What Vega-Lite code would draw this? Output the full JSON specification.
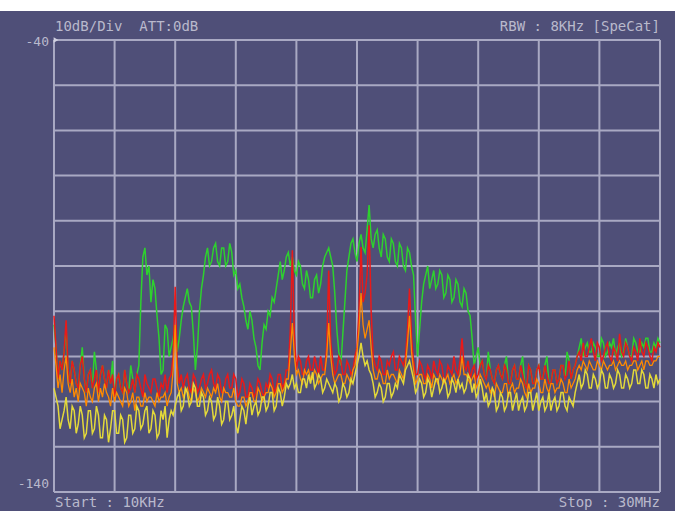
{
  "$schema": "https://vega.github.io/schema/vega-lite/v6.json",
  "width": 675,
  "height": 500,
  "autosize": {"type": "none"},
  "padding": {"top": 11, "left": 0, "right": 0, "bottom": 0},
  "background": "#ffffff",
  "view": {"fill": "#4f4f78", "stroke": null},
  "datasets": {
    "vg": [{"v":0},{"v":3},{"v":6},{"v":9},{"v":12},{"v":15},{"v":18},{"v":21},{"v":24},{"v":27},{"v":30}],
    "hg": [{"h":-40},{"h":-50},{"h":-60},{"h":-70},{"h":-80},{"h":-90},{"h":-100},{"h":-110},{"h":-120},{"h":-130},{"h":-140}],
    "spec": [
      {"f":0.0,"g":-103,"r":-101,"o":-108,"y":-117},
      {"f":0.1,"g":-108,"r":-108,"o":-112,"y":-119},
      {"f":0.2,"g":-115,"r":-115,"o":-117,"y":-121},
      {"f":0.3,"g":-111,"r":-111,"o":-114,"y":-126},
      {"f":0.4,"g":-113,"r":-113,"o":-118,"y":-124},
      {"f":0.5,"g":-109,"r":-109,"o":-113,"y":-122},
      {"f":0.6,"g":-104,"r":-102,"o":-110,"y":-119},
      {"f":0.7,"g":-113,"r":-113,"o":-116,"y":-124},
      {"f":0.8,"g":-116,"r":-116,"o":-118,"y":-126},
      {"f":0.9,"g":-111,"r":-111,"o":-115,"y":-121},
      {"f":1.0,"g":-113,"r":-113,"o":-119,"y":-122},
      {"f":1.1,"g":-116,"r":-116,"o":-117,"y":-127},
      {"f":1.2,"g":-117,"r":-117,"o":-120,"y":-125},
      {"f":1.3,"g":-112,"r":-112,"o":-116,"y":-121},
      {"f":1.4,"g":-108,"r":-110,"o":-117,"y":-123},
      {"f":1.5,"g":-115,"r":-115,"o":-118,"y":-128},
      {"f":1.6,"g":-118,"r":-118,"o":-121,"y":-127},
      {"f":1.7,"g":-114,"r":-114,"o":-117,"y":-122},
      {"f":1.8,"g":-113,"r":-113,"o":-119,"y":-122},
      {"f":1.9,"g":-117,"r":-117,"o":-120,"y":-127},
      {"f":2.0,"g":-109,"r":-115,"o":-117,"y":-126},
      {"f":2.1,"g":-113,"r":-113,"o":-116,"y":-121},
      {"f":2.2,"g":-118,"r":-118,"o":-120,"y":-123},
      {"f":2.3,"g":-114,"r":-114,"o":-117,"y":-128},
      {"f":2.4,"g":-112,"r":-112,"o":-119,"y":-128},
      {"f":2.5,"g":-115,"r":-115,"o":-116,"y":-123},
      {"f":2.6,"g":-117,"r":-117,"o":-118,"y":-124},
      {"f":2.7,"g":-113,"r":-113,"o":-119,"y":-129},
      {"f":2.8,"g":-116,"r":-116,"o":-121,"y":-126},
      {"f":2.9,"g":-111,"r":-114,"o":-117,"y":-122},
      {"f":3.0,"g":-119,"r":-119,"o":-120,"y":-122},
      {"f":3.1,"g":-115,"r":-115,"o":-118,"y":-127},
      {"f":3.2,"g":-114,"r":-114,"o":-119,"y":-127},
      {"f":3.3,"g":-117,"r":-117,"o":-120,"y":-123},
      {"f":3.4,"g":-118,"r":-118,"o":-121,"y":-124},
      {"f":3.5,"g":-113,"r":-113,"o":-117,"y":-129},
      {"f":3.6,"g":-116,"r":-116,"o":-118,"y":-128},
      {"f":3.7,"g":-118,"r":-118,"o":-121,"y":-123},
      {"f":3.8,"g":-112,"r":-117,"o":-120,"y":-123},
      {"f":3.9,"g":-115,"r":-115,"o":-118,"y":-127},
      {"f":4.0,"g":-118,"r":-118,"o":-122,"y":-126},
      {"f":4.1,"g":-114,"r":-114,"o":-119,"y":-121},
      {"f":4.2,"g":-112,"r":-115,"o":-119,"y":-122},
      {"f":4.3,"g":-98,"r":-117,"o":-121,"y":-126},
      {"f":4.4,"g":-88,"r":-119,"o":-121,"y":-125},
      {"f":4.5,"g":-86,"r":-114,"o":-118,"y":-122},
      {"f":4.6,"g":-92,"r":-116,"o":-120,"y":-121},
      {"f":4.7,"g":-90,"r":-117,"o":-119,"y":-127},
      {"f":4.8,"g":-98,"r":-118,"o":-119,"y":-126},
      {"f":4.9,"g":-93,"r":-115,"o":-120,"y":-122},
      {"f":5.0,"g":-95,"r":-115,"o":-121,"y":-123},
      {"f":5.1,"g":-101,"r":-117,"o":-118,"y":-128},
      {"f":5.2,"g":-106,"r":-119,"o":-120,"y":-127},
      {"f":5.3,"g":-114,"r":-116,"o":-119,"y":-122},
      {"f":5.4,"g":-113,"r":-117,"o":-119,"y":-124},
      {"f":5.5,"g":-103,"r":-114,"o":-118,"y":-121},
      {"f":5.6,"g":-104,"r":-118,"o":-121,"y":-128},
      {"f":5.7,"g":-110,"r":-115,"o":-119,"y":-124},
      {"f":5.8,"g":-108,"r":-114,"o":-118,"y":-122},
      {"f":5.9,"g":-106,"r":-110,"o":-113,"y":-123},
      {"f":6.0,"g":-103,"r":-94.6,"o":-103,"y":-121},
      {"f":6.1,"g":-109,"r":-112,"o":-116,"y":-119},
      {"f":6.2,"g":-106,"r":-116,"o":-118,"y":-118},
      {"f":6.3,"g":-102,"r":-114,"o":-117,"y":-122},
      {"f":6.4,"g":-99,"r":-117,"o":-119,"y":-121},
      {"f":6.5,"g":-97,"r":-115,"o":-118,"y":-117},
      {"f":6.6,"g":-95,"r":-114,"o":-117,"y":-118},
      {"f":6.7,"g":-98,"r":-117,"o":-119,"y":-121},
      {"f":6.8,"g":-99,"r":-118,"o":-120,"y":-120},
      {"f":6.9,"g":-105,"r":-114,"o":-117,"y":-116},
      {"f":7.0,"g":-113,"r":-115,"o":-118,"y":-117},
      {"f":7.1,"g":-108,"r":-118,"o":-120,"y":-121},
      {"f":7.2,"g":-100,"r":-117,"o":-119,"y":-121},
      {"f":7.3,"g":-95,"r":-115,"o":-117,"y":-118},
      {"f":7.4,"g":-92,"r":-114,"o":-118,"y":-119},
      {"f":7.5,"g":-88,"r":-117,"o":-119,"y":-123},
      {"f":7.6,"g":-86,"r":-116,"o":-117,"y":-122},
      {"f":7.7,"g":-90,"r":-114,"o":-118,"y":-119},
      {"f":7.8,"g":-89,"r":-113,"o":-119,"y":-120},
      {"f":7.9,"g":-86,"r":-116,"o":-117,"y":-124},
      {"f":8.0,"g":-85,"r":-117,"o":-118,"y":-123},
      {"f":8.1,"g":-89,"r":-114,"o":-116,"y":-119},
      {"f":8.2,"g":-90,"r":-115,"o":-119,"y":-121},
      {"f":8.3,"g":-86,"r":-118,"o":-120,"y":-125},
      {"f":8.4,"g":-86,"r":-118,"o":-117,"y":-124},
      {"f":8.5,"g":-90,"r":-115,"o":-118,"y":-120},
      {"f":8.6,"g":-89,"r":-114,"o":-118,"y":-120},
      {"f":8.7,"g":-85,"r":-117,"o":-119,"y":-124},
      {"f":8.8,"g":-87,"r":-117,"o":-119,"y":-123},
      {"f":8.9,"g":-92,"r":-114,"o":-117,"y":-121},
      {"f":9.0,"g":-91,"r":-115,"o":-120,"y":-125},
      {"f":9.1,"g":-95,"r":-119,"o":-121,"y":-127},
      {"f":9.2,"g":-94,"r":-118,"o":-121,"y":-124},
      {"f":9.3,"g":-97,"r":-115,"o":-119,"y":-121},
      {"f":9.4,"g":-99,"r":-116,"o":-119,"y":-122},
      {"f":9.5,"g":-102,"r":-119,"o":-121,"y":-125},
      {"f":9.6,"g":-104,"r":-119,"o":-120,"y":-121},
      {"f":9.7,"g":-100,"r":-116,"o":-118,"y":-119},
      {"f":9.8,"g":-102,"r":-117,"o":-118,"y":-123},
      {"f":9.9,"g":-106,"r":-119,"o":-120,"y":-121},
      {"f":10.0,"g":-108,"r":-118,"o":-120,"y":-120},
      {"f":10.1,"g":-112,"r":-115,"o":-117,"y":-123},
      {"f":10.2,"g":-113,"r":-116,"o":-118,"y":-122},
      {"f":10.3,"g":-107,"r":-118,"o":-120,"y":-119},
      {"f":10.4,"g":-103,"r":-119,"o":-119,"y":-119},
      {"f":10.5,"g":-104,"r":-116,"o":-118,"y":-122},
      {"f":10.6,"g":-100,"r":-117,"o":-118,"y":-121},
      {"f":10.7,"g":-101,"r":-114,"o":-116,"y":-118},
      {"f":10.8,"g":-97,"r":-115,"o":-117,"y":-118},
      {"f":10.9,"g":-98,"r":-118,"o":-119,"y":-122},
      {"f":11.0,"g":-95,"r":-117,"o":-118,"y":-121},
      {"f":11.1,"g":-92,"r":-114,"o":-116,"y":-117},
      {"f":11.2,"g":-89,"r":-114,"o":-116,"y":-118},
      {"f":11.3,"g":-93,"r":-117,"o":-118,"y":-121},
      {"f":11.4,"g":-91,"r":-116,"o":-117,"y":-119},
      {"f":11.5,"g":-88,"r":-113,"o":-115,"y":-116},
      {"f":11.6,"g":-87,"r":-113,"o":-115,"y":-117},
      {"f":11.7,"g":-90,"r":-104,"o":-109,"y":-116},
      {"f":11.8,"g":-88,"r":-86.5,"o":-102.6,"y":-114},
      {"f":11.9,"g":-91,"r":-105,"o":-110,"y":-117},
      {"f":12.0,"g":-92,"r":-113,"o":-114,"y":-116},
      {"f":12.1,"g":-89,"r":-110,"o":-113,"y":-118},
      {"f":12.2,"g":-90,"r":-111,"o":-115,"y":-118},
      {"f":12.3,"g":-94,"r":-114,"o":-116,"y":-115},
      {"f":12.4,"g":-95,"r":-114,"o":-113,"y":-115},
      {"f":12.5,"g":-91,"r":-111,"o":-114,"y":-117},
      {"f":12.6,"g":-93,"r":-110,"o":-113,"y":-114},
      {"f":12.7,"g":-97,"r":-113,"o":-115,"y":-116},
      {"f":12.8,"g":-97,"r":-113,"o":-115,"y":-113.5},
      {"f":12.9,"g":-93,"r":-110,"o":-113,"y":-117},
      {"f":13.0,"g":-92,"r":-112,"o":-114,"y":-116},
      {"f":13.1,"g":-96,"r":-114,"o":-116,"y":-114},
      {"f":13.2,"g":-94,"r":-110,"o":-115,"y":-115},
      {"f":13.3,"g":-90,"r":-113,"o":-114,"y":-118},
      {"f":13.4,"g":-88,"r":-113,"o":-114,"y":-117},
      {"f":13.5,"g":-87,"r":-108,"o":-110,"y":-115},
      {"f":13.6,"g":-86,"r":-91,"o":-102.6,"y":-116},
      {"f":13.7,"g":-88,"r":-107,"o":-110,"y":-117},
      {"f":13.8,"g":-90,"r":-111,"o":-114,"y":-118},
      {"f":13.9,"g":-96,"r":-114,"o":-116,"y":-116},
      {"f":14.0,"g":-104,"r":-113,"o":-115,"y":-117},
      {"f":14.1,"g":-109,"r":-110,"o":-114,"y":-120},
      {"f":14.2,"g":-112,"r":-111,"o":-114,"y":-119},
      {"f":14.3,"g":-105,"r":-114,"o":-116,"y":-116},
      {"f":14.4,"g":-98,"r":-114,"o":-116,"y":-117},
      {"f":14.5,"g":-91,"r":-111,"o":-114,"y":-119},
      {"f":14.6,"g":-88,"r":-112,"o":-115,"y":-118},
      {"f":14.7,"g":-85,"r":-114,"o":-116,"y":-115},
      {"f":14.8,"g":-84,"r":-113,"o":-113,"y":-116},
      {"f":14.9,"g":-87,"r":-110,"o":-112,"y":-114},
      {"f":15.0,"g":-89,"r":-108,"o":-109,"y":-112},
      {"f":15.1,"g":-85,"r":-100,"o":-104,"y":-110},
      {"f":15.2,"g":-83,"r":-85.8,"o":-96,"y":-107},
      {"f":15.3,"g":-86,"r":-98,"o":-103,"y":-110},
      {"f":15.4,"g":-87,"r":-96,"o":-106,"y":-112},
      {"f":15.5,"g":-82,"r":-92,"o":-104,"y":-111},
      {"f":15.6,"g":-76.5,"r":-81,"o":-102,"y":-113},
      {"f":15.7,"g":-84,"r":-100,"o":-108,"y":-114},
      {"f":15.8,"g":-86,"r":-110,"o":-113,"y":-116},
      {"f":15.9,"g":-83,"r":-112,"o":-115,"y":-119},
      {"f":16.0,"g":-82,"r":-113,"o":-115,"y":-118},
      {"f":16.1,"g":-86,"r":-110,"o":-113,"y":-116},
      {"f":16.2,"g":-88,"r":-111,"o":-114,"y":-117},
      {"f":16.3,"g":-83,"r":-114,"o":-116,"y":-120},
      {"f":16.4,"g":-84,"r":-114,"o":-116,"y":-119},
      {"f":16.5,"g":-88,"r":-111,"o":-113,"y":-116},
      {"f":16.6,"g":-89,"r":-112,"o":-115,"y":-116},
      {"f":16.7,"g":-84,"r":-110,"o":-114,"y":-119},
      {"f":16.8,"g":-85,"r":-109,"o":-114,"y":-118},
      {"f":16.9,"g":-89,"r":-113,"o":-115,"y":-116},
      {"f":17.0,"g":-90,"r":-113,"o":-116,"y":-117},
      {"f":17.1,"g":-85,"r":-110,"o":-113,"y":-114},
      {"f":17.2,"g":-86,"r":-111,"o":-114,"y":-115},
      {"f":17.3,"g":-90,"r":-112,"o":-115,"y":-116},
      {"f":17.4,"g":-91,"r":-110,"o":-112,"y":-113},
      {"f":17.5,"g":-86,"r":-104,"o":-107,"y":-112},
      {"f":17.6,"g":-87,"r":-95,"o":-101,"y":-111},
      {"f":17.7,"g":-90,"r":-106,"o":-109,"y":-113},
      {"f":17.8,"g":-92,"r":-111,"o":-113,"y":-115},
      {"f":17.9,"g":-102,"r":-114,"o":-116,"y":-118},
      {"f":18.0,"g":-110,"r":-114,"o":-115,"y":-117},
      {"f":18.1,"g":-104,"r":-111,"o":-114,"y":-115},
      {"f":18.2,"g":-98,"r":-112,"o":-114,"y":-116},
      {"f":18.3,"g":-94,"r":-114,"o":-116,"y":-119},
      {"f":18.4,"g":-92,"r":-115,"o":-116,"y":-118},
      {"f":18.5,"g":-90,"r":-112,"o":-114,"y":-115},
      {"f":18.6,"g":-95,"r":-113,"o":-115,"y":-116},
      {"f":18.7,"g":-93,"r":-115,"o":-117,"y":-119},
      {"f":18.8,"g":-91,"r":-111,"o":-114,"y":-117},
      {"f":18.9,"g":-95,"r":-113,"o":-115,"y":-115},
      {"f":19.0,"g":-94,"r":-114,"o":-116,"y":-115},
      {"f":19.1,"g":-91,"r":-111,"o":-114,"y":-118},
      {"f":19.2,"g":-92,"r":-112,"o":-115,"y":-117},
      {"f":19.3,"g":-97,"r":-115,"o":-116,"y":-115},
      {"f":19.4,"g":-96,"r":-115,"o":-115,"y":-116},
      {"f":19.5,"g":-92,"r":-112,"o":-114,"y":-119},
      {"f":19.6,"g":-93,"r":-113,"o":-116,"y":-118},
      {"f":19.7,"g":-98,"r":-114,"o":-115,"y":-115},
      {"f":19.8,"g":-97,"r":-110,"o":-114,"y":-116},
      {"f":19.9,"g":-93,"r":-113,"o":-116,"y":-118},
      {"f":20.0,"g":-94,"r":-114,"o":-115,"y":-115},
      {"f":20.1,"g":-98,"r":-111,"o":-114,"y":-117},
      {"f":20.2,"g":-99,"r":-106,"o":-110,"y":-116},
      {"f":20.3,"g":-95,"r":-112,"o":-114,"y":-118},
      {"f":20.4,"g":-96,"r":-113,"o":-114,"y":-117},
      {"f":20.5,"g":-100,"r":-111,"o":-115,"y":-114},
      {"f":20.6,"g":-101,"r":-115,"o":-116,"y":-115},
      {"f":20.7,"g":-106,"r":-113,"o":-115,"y":-118},
      {"f":20.8,"g":-112,"r":-112,"o":-114,"y":-116},
      {"f":20.9,"g":-110,"r":-115,"o":-117,"y":-119},
      {"f":21.0,"g":-108,"r":-114,"o":-116,"y":-118},
      {"f":21.1,"g":-112,"r":-112,"o":-114,"y":-115},
      {"f":21.2,"g":-111,"r":-111,"o":-115,"y":-117},
      {"f":21.3,"g":-114,"r":-114,"o":-116,"y":-120},
      {"f":21.4,"g":-115,"r":-115,"o":-117,"y":-118},
      {"f":21.5,"g":-109,"r":-112,"o":-116,"y":-121},
      {"f":21.6,"g":-113,"r":-113,"o":-118,"y":-120},
      {"f":21.7,"g":-115,"r":-115,"o":-117,"y":-117},
      {"f":21.8,"g":-116,"r":-116,"o":-119,"y":-118},
      {"f":21.9,"g":-113,"r":-113,"o":-116,"y":-122},
      {"f":22.0,"g":-112,"r":-112,"o":-117,"y":-121},
      {"f":22.1,"g":-114,"r":-114,"o":-118,"y":-118},
      {"f":22.2,"g":-115,"r":-115,"o":-118,"y":-119},
      {"f":22.3,"g":-112,"r":-112,"o":-116,"y":-122},
      {"f":22.4,"g":-110,"r":-113,"o":-116,"y":-121},
      {"f":22.5,"g":-116,"r":-116,"o":-119,"y":-118},
      {"f":22.6,"g":-116,"r":-116,"o":-117,"y":-118},
      {"f":22.7,"g":-113,"r":-113,"o":-116,"y":-122},
      {"f":22.8,"g":-112,"r":-112,"o":-118,"y":-120},
      {"f":22.9,"g":-115,"r":-115,"o":-117,"y":-118},
      {"f":23.0,"g":-115,"r":-115,"o":-117,"y":-122},
      {"f":23.1,"g":-112,"r":-112,"o":-115,"y":-120},
      {"f":23.2,"g":-110,"r":-114,"o":-116,"y":-119},
      {"f":23.3,"g":-116,"r":-116,"o":-118,"y":-122},
      {"f":23.4,"g":-117,"r":-117,"o":-119,"y":-121},
      {"f":23.5,"g":-112,"r":-112,"o":-116,"y":-118},
      {"f":23.6,"g":-113,"r":-113,"o":-118,"y":-118},
      {"f":23.7,"g":-116,"r":-116,"o":-117,"y":-122},
      {"f":23.8,"g":-116,"r":-116,"o":-117,"y":-120},
      {"f":23.9,"g":-113,"r":-113,"o":-115,"y":-118},
      {"f":24.0,"g":-112,"r":-112,"o":-116,"y":-122},
      {"f":24.1,"g":-115,"r":-115,"o":-118,"y":-120},
      {"f":24.2,"g":-115,"r":-115,"o":-118,"y":-119},
      {"f":24.3,"g":-112,"r":-112,"o":-115,"y":-122},
      {"f":24.4,"g":-110,"r":-114,"o":-117,"y":-121},
      {"f":24.5,"g":-116,"r":-116,"o":-118,"y":-118},
      {"f":24.6,"g":-116,"r":-116,"o":-116,"y":-122},
      {"f":24.7,"g":-113,"r":-113,"o":-116,"y":-120},
      {"f":24.8,"g":-113,"r":-113,"o":-118,"y":-119},
      {"f":24.9,"g":-116,"r":-116,"o":-117,"y":-122},
      {"f":25.0,"g":-115,"r":-115,"o":-117,"y":-121},
      {"f":25.1,"g":-112,"r":-112,"o":-115,"y":-118},
      {"f":25.2,"g":-112,"r":-112,"o":-116,"y":-118},
      {"f":25.3,"g":-115,"r":-115,"o":-118,"y":-121},
      {"f":25.4,"g":-109,"r":-114,"o":-118,"y":-122},
      {"f":25.5,"g":-111,"r":-111,"o":-115,"y":-119},
      {"f":25.6,"g":-115,"r":-115,"o":-117,"y":-120},
      {"f":25.7,"g":-113,"r":-113,"o":-116,"y":-121},
      {"f":25.8,"g":-112,"r":-112,"o":-115,"y":-118},
      {"f":25.9,"g":-110,"r":-110,"o":-113,"y":-116},
      {"f":26.0,"g":-108,"r":-109,"o":-112,"y":-114},
      {"f":26.1,"g":-106,"r":-111,"o":-113,"y":-117},
      {"f":26.2,"g":-110,"r":-107,"o":-111,"y":-116},
      {"f":26.3,"g":-108,"r":-110,"o":-112,"y":-113},
      {"f":26.4,"g":-107,"r":-110,"o":-113,"y":-114},
      {"f":26.5,"g":-109,"r":-108,"o":-111,"y":-117},
      {"f":26.6,"g":-109,"r":-106,"o":-112,"y":-117},
      {"f":26.7,"g":-107,"r":-109,"o":-113,"y":-114},
      {"f":26.8,"g":-108,"r":-111,"o":-113,"y":-115},
      {"f":26.9,"g":-110,"r":-107,"o":-111,"y":-117},
      {"f":27.0,"g":-110,"r":-108,"o":-112,"y":-116},
      {"f":27.1,"g":-106,"r":-111,"o":-113,"y":-113},
      {"f":27.2,"g":-107,"r":-110,"o":-111,"y":-114},
      {"f":27.3,"g":-110,"r":-108,"o":-112,"y":-117},
      {"f":27.4,"g":-109,"r":-107,"o":-113,"y":-117},
      {"f":27.5,"g":-107,"r":-110,"o":-112,"y":-114},
      {"f":27.6,"g":-108,"r":-111,"o":-112,"y":-115},
      {"f":27.7,"g":-106,"r":-108,"o":-111,"y":-117},
      {"f":27.8,"g":-110,"r":-109,"o":-113,"y":-116},
      {"f":27.9,"g":-108,"r":-111,"o":-112,"y":-113},
      {"f":28.0,"g":-107,"r":-105,"o":-111,"y":-114},
      {"f":28.1,"g":-110,"r":-109,"o":-112,"y":-117},
      {"f":28.2,"g":-109,"r":-110,"o":-112,"y":-117},
      {"f":28.3,"g":-106,"r":-107,"o":-111,"y":-114},
      {"f":28.4,"g":-108,"r":-108,"o":-113,"y":-115},
      {"f":28.5,"g":-110,"r":-110,"o":-112,"y":-117},
      {"f":28.6,"g":-110,"r":-111,"o":-112,"y":-116},
      {"f":28.7,"g":-106,"r":-108,"o":-111,"y":-113},
      {"f":28.8,"g":-107,"r":-109,"o":-111,"y":-113},
      {"f":28.9,"g":-109,"r":-111,"o":-113,"y":-116},
      {"f":29.0,"g":-109,"r":-106,"o":-112,"y":-116},
      {"f":29.1,"g":-107,"r":-109,"o":-111,"y":-113},
      {"f":29.2,"g":-108,"r":-110,"o":-113,"y":-114},
      {"f":29.3,"g":-106,"r":-107,"o":-111,"y":-117},
      {"f":29.4,"g":-106,"r":-108,"o":-111,"y":-117},
      {"f":29.5,"g":-109,"r":-110,"o":-112,"y":-114},
      {"f":29.6,"g":-109,"r":-111,"o":-112,"y":-115},
      {"f":29.7,"g":-107,"r":-108,"o":-111,"y":-117},
      {"f":29.8,"g":-108,"r":-109,"o":-111,"y":-114},
      {"f":29.9,"g":-106,"r":-107,"o":-110,"y":-116},
      {"f":30.0,"g":-107,"r":-108,"o":-110,"y":-115}
    ]
  },
  "encoding": {
    "x": {"type": "quantitative", "scale": {"domain": [-2.673, 30.743], "nice": false, "zero": false}, "axis": null},
    "y": {"type": "quantitative", "scale": {"domain": [-144.2, -33.584], "nice": false, "zero": false}, "axis": null}
  },
  "layer": [
    {
      "data": {"name": "vg"},
      "mark": {"type": "rule", "color": "#a9a9c3", "strokeWidth": 2},
      "encoding": {"x": {"field": "v"}, "y": {"datum": -40}, "y2": {"datum": -140}}
    },
    {
      "data": {"name": "hg"},
      "mark": {"type": "rule", "color": "#a9a9c3", "strokeWidth": 2},
      "encoding": {"y": {"field": "h"}, "x": {"datum": 0}, "x2": {"datum": 30}}
    },
    {
      "data": {"name": "spec"},
      "mark": {"type": "line", "color": "#2ed12e", "strokeWidth": 1.5},
      "encoding": {"x": {"field": "f"}, "y": {"field": "g"}}
    },
    {
      "data": {"name": "spec"},
      "mark": {"type": "line", "color": "#e81a1a", "strokeWidth": 1.5},
      "encoding": {"x": {"field": "f"}, "y": {"field": "r"}}
    },
    {
      "data": {"name": "spec"},
      "mark": {"type": "line", "color": "#ff8a00", "strokeWidth": 1.3},
      "encoding": {"x": {"field": "f"}, "y": {"field": "o"}}
    },
    {
      "data": {"name": "spec"},
      "mark": {"type": "line", "color": "#e3d93a", "strokeWidth": 1.5},
      "encoding": {"x": {"field": "f"}, "y": {"field": "y"}}
    },
    {
      "data": {"values": [{"t": "x"}]},
      "mark": {"type": "point", "shape": "triangle-right", "filled": true, "size": 30, "color": "#d0d0e0", "opacity": 1, "xOffset": 2},
      "encoding": {"x": {"datum": 0}, "y": {"datum": -40}}
    },
    {
      "data": {"values": [{"t": "10dB/Div\u00a0 ATT:0dB"}]},
      "mark": {"type": "text", "align": "left", "baseline": "alphabetic", "font": "DejaVu Sans Mono", "fontSize": 14, "color": "#b9b9cc", "dx": 1, "dy": -9},
      "encoding": {"x": {"datum": 0}, "y": {"datum": -40}, "text": {"field": "t"}}
    },
    {
      "data": {"values": [{"t": "RBW : 8KHz [SpeCat]"}]},
      "mark": {"type": "text", "align": "right", "baseline": "alphabetic", "font": "DejaVu Sans Mono", "fontSize": 14, "color": "#b9b9cc", "dx": 0, "dy": -9},
      "encoding": {"x": {"datum": 30}, "y": {"datum": -40}, "text": {"field": "t"}}
    },
    {
      "data": {"values": [{"t": "-40"}]},
      "mark": {"type": "text", "align": "right", "baseline": "middle", "font": "DejaVu Sans Mono", "fontSize": 13, "color": "#b9b9cc", "dx": -5, "dy": 2},
      "encoding": {"x": {"datum": 0}, "y": {"datum": -40}, "text": {"field": "t"}}
    },
    {
      "data": {"values": [{"t": "-140"}]},
      "mark": {"type": "text", "align": "right", "baseline": "middle", "font": "DejaVu Sans Mono", "fontSize": 13, "color": "#b9b9cc", "dx": -5, "dy": -8},
      "encoding": {"x": {"datum": 0}, "y": {"datum": -140}, "text": {"field": "t"}}
    },
    {
      "data": {"values": [{"t": "Start : 10KHz"}]},
      "mark": {"type": "text", "align": "left", "baseline": "top", "font": "DejaVu Sans Mono", "fontSize": 14, "color": "#b9b9cc", "dx": 1, "dy": 4},
      "encoding": {"x": {"datum": 0}, "y": {"datum": -140}, "text": {"field": "t"}}
    },
    {
      "data": {"values": [{"t": "Stop : 30MHz"}]},
      "mark": {"type": "text", "align": "right", "baseline": "top", "font": "DejaVu Sans Mono", "fontSize": 14, "color": "#b9b9cc", "dx": 0, "dy": 4},
      "encoding": {"x": {"datum": 30}, "y": {"datum": -140}, "text": {"field": "t"}}
    }
  ]
}
